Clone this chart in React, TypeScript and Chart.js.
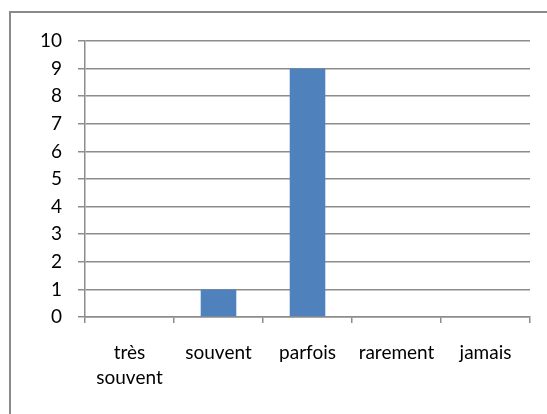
import React, { useEffect, useRef } from "react";
import { Chart, registerables } from "chart.js";

Chart.register(...registerables);

const categories: (string | string[])[] = [["très", "souvent"], "souvent", "parfois", "rarement", "jamais"];
const values: number[] = [0, 1, 9, 0, 0];
const yMin = 0;
const yMax = 10;
const yStep = 1;

const FONT = "Lato, 'Open Sans', sans-serif";
const GRID = "#8c8c8c";

export default function App() {
  const ref = useRef<HTMLCanvasElement>(null);
  useEffect(() => {
    if (!ref.current) return;
    const chart = new Chart(ref.current, {
      type: "bar",
      data: {
        labels: categories,
        datasets: [
          {
            data: values,
            backgroundColor: "#4f81bd",
            borderWidth: 0,
            barPercentage: 0.4,
            categoryPercentage: 1,
          },
        ],
      },
      options: {
        animation: false,
        responsive: false,
        maintainAspectRatio: false,
        layout: { padding: { left: 0, top: 41, right: 17, bottom: 0 } },
        plugins: { legend: { display: false }, tooltip: { enabled: false } },
        scales: {
          x: {
            offset: true,
            grid: {
              offset: true,
              drawOnChartArea: false,
              drawTicks: true,
              tickLength: 6,
              color: GRID,
              lineWidth: 1.5,
            },
            border: { display: true, color: GRID, width: 1.5 },
            ticks: {
              color: "#000",
              font: { family: FONT, size: 19, lineHeight: 1.3 },
              padding: 18,
              maxRotation: 0,
              autoSkip: false,
            },
            afterFit: (s: any) => {
              s.height = 97;
            },
          },
          y: {
            min: yMin,
            max: yMax,
            grid: { color: GRID, lineWidth: 1.5, tickLength: 7, drawTicks: true },
            border: { display: true, color: GRID, width: 1.5 },
            ticks: {
              stepSize: yStep,
              color: "#000",
              font: { family: FONT, size: 19 },
              padding: 16,
            },
            afterFit: (s: any) => {
              s.width = 85;
            },
          },
        },
      },
    });
    return () => chart.destroy();
  }, []);
  return (
    <div style={{ position: "absolute", left: 0, top: 0, width: 547, height: 414, background: "#fff", overflow: "hidden" }}>
      <div
        style={{
          position: "absolute",
          left: 9,
          top: 11,
          width: 600,
          height: 500,
          borderLeft: "2px solid #8a8a8a",
          borderTop: "2px solid #8a8a8a",
        }}
      />
      <canvas ref={ref} width={547} height={414} style={{ position: "absolute", left: 0, top: 0 }} />
    </div>
  );
}
